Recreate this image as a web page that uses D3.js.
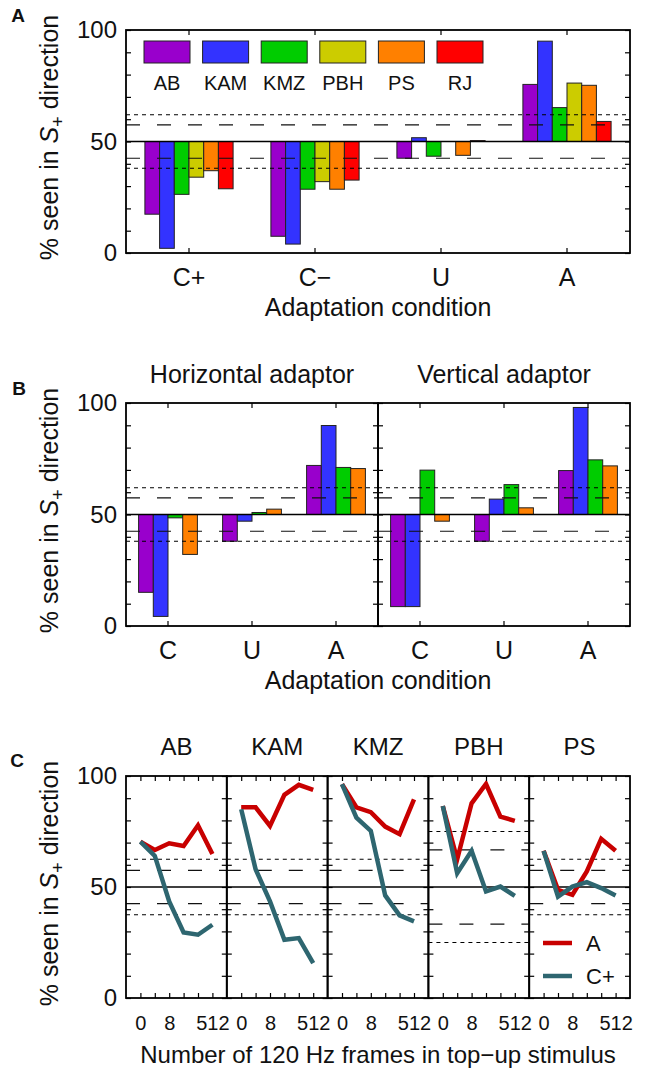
<!DOCTYPE html>
<html>
<head>
<meta charset="utf-8">
<script src="https://cdn.jsdelivr.net/npm/d3@7"></script>
<style>
body { margin: 0; background: #fff; }
svg { display: block; font-family: "Liberation Sans", Arial, Helvetica, sans-serif; }
</style>
</head>
<body>
<div id="chart"></div>
<script>
// ---- data ----
var subjects = ["AB", "KAM", "KMZ", "PBH", "PS", "RJ"];
var subjectColors = ["#9900cc", "#3333ff", "#00cc00", "#cccc00", "#ff8000", "#ff0000"];

// panel A : % seen in S+ direction per adaptation condition
var conditionsA = ["C+", "C\u2212", "U", "A"];
var abA  = [17.4, 7.5, 42.5, 75.6];
var kamA = [2.1, 4.0, 51.7, 95.0];
var kmzA = [26.3, 28.6, 43.4, 65.2];
var pbhA = [34.0, 32.0, 50.0, 76.2];
var psA  = [36.9, 28.6, 43.8, 75.2];
var rjA  = [28.8, 32.7, 50.4, 59.0];

// panel B : horizontal and vertical adaptor
var subjectsB = ["AB", "KAM", "KMZ", "PS"];
var colorsB = ["#9900cc", "#3333ff", "#00cc00", "#ff8000"];
var conditionsB = ["C", "U", "A"];
var horizAB  = [15.1, 38.0, 72.0];
var horizKAM = [4.3, 47.0, 89.9];
var horizKMZ = [48.5, 50.9, 71.1];
var horizPS  = [32.1, 52.4, 70.6];
var vertAB  = [8.7, 38.0, 69.7];
var vertKAM = [8.7, 56.9, 98.0];
var vertKMZ = [69.9, 63.4, 74.5];
var vertPS  = [47.0, 53.0, 71.8];

// panel C : top-up frames
var subjectsC = ["AB", "KAM", "KMZ", "PBH", "PS"];
var frames = [0, 2, 8, 32, 128, 512];
var frameLabels = [0, 8, 512];
var adaptC = [
    [70.4, 66.7, 69.7, 68.5, 77.8, 64.9],
    [85.9, 85.9, 77.5, 91.5, 96.0, 93.7],
    [96.3, 85.9, 83.7, 77.2, 73.8, 89.5],
    [86.5, 62.5, 87.7, 96.4, 81.7, 79.8],
    [66.3, 48.7, 46.5, 57.0, 71.7, 66.3]
];
var contC = [
    [70.4, 64.0, 43.5, 29.5, 28.5, 33.0],
    [85.0, 58.0, 43.5, 26.2, 27.0, 15.7],
    [96.3, 81.2, 75.3, 46.2, 37.2, 34.5],
    [86.5, 56.2, 66.3, 48.0, 50.2, 46.0],
    [66.3, 45.7, 50.2, 52.2, 49.5, 46.2]
];

// criterion lines (short dash / long dash)
var shortCrit = [62, 38];
var longCrit = [57.5, 42.5];
var shortCritC = [[62.5, 37.5], [62.5, 37.5], [62.5, 37.5], [75, 25], [62.5, 37.5]];
var longCritC = [[57.5, 42.5], [57.5, 42.5], [57.5, 42.5], [66.7, 33.3], [57.5, 42.5]];

var yTicks = d3.range(0, 101, 10);
var font = "Liberation Sans, Arial, Helvetica, sans-serif";

var svg = d3.select("#chart")
    .append("svg")
    .attr("width", 645)
    .attr("height", 1068);

var left = 126, right = 630;

function yTickAxis(g, y, x, side, labels) {
    var axis = (side === "left" ? d3.axisLeft(y) : d3.axisRight(y))
        .tickValues(yTicks)
        .tickSize(-5)
        .tickPadding(9)
        .tickFormat(function(d) { return labels && d % 50 === 0 ? d : ""; });
    var a = g.append("g")
        .attr("transform", "translate(" + x + ",0)")
        .attr("font-family", font)
        .call(axis);
    a.select(".domain").remove();
    a.selectAll("line").attr("stroke", "#000").attr("stroke-width", 1.2);
    a.selectAll("text").attr("font-size", 24).attr("fill", "#111");
}

function xTickAxis(g, x, top, bottom, fmt, size, pad) {
    var b = g.append("g")
        .attr("transform", "translate(0," + bottom + ")")
        .attr("font-family", font)
        .call(d3.axisBottom(x).tickSize(-5).tickPadding(pad).tickFormat(fmt));
    b.select(".domain").remove();
    b.selectAll("line").attr("stroke", "#000").attr("stroke-width", 1.2);
    b.selectAll("text").attr("font-size", size).attr("fill", "#111");
    var t = g.append("g")
        .attr("transform", "translate(0," + top + ")")
        .call(d3.axisTop(x).tickSize(-5).tickFormat(""));
    t.select(".domain").remove();
    t.selectAll("line").attr("stroke", "#000").attr("stroke-width", 1.2);
    return b;
}

function refLines(g, y, x0, x1, shortVals, longVals) {
    g.append("line")
        .attr("x1", x0).attr("x2", x1)
        .attr("y1", y(50)).attr("y2", y(50))
        .attr("stroke", "#000").attr("stroke-width", 1.3);
    shortVals.forEach(function(v) {
        g.append("line")
            .attr("x1", x0).attr("x2", x1)
            .attr("y1", y(v)).attr("y2", y(v))
            .attr("stroke", "#000").attr("stroke-width", 1.1)
            .attr("stroke-dasharray", "4,4");
    });
    longVals.forEach(function(v) {
        g.append("line")
            .attr("x1", x0).attr("x2", x1)
            .attr("y1", y(v)).attr("y2", y(v))
            .attr("stroke", "#111").attr("stroke-width", 1.2)
            .attr("stroke-dasharray", "14,17");
    });
}

function frame(g, x0, x1, y) {
    g.append("rect")
        .attr("x", x0).attr("y", y(100))
        .attr("width", x1 - x0).attr("height", y(0) - y(100))
        .attr("fill", "none").attr("stroke", "#000").attr("stroke-width", 1.8);
}

function drawBars(g, cond, subj, cols, series, x0, x1, y) {
    var xCond = d3.scaleBand().domain(cond).range([x0, x1]);
    var groupW = xCond.bandwidth() * 0.7;
    var xSubj = d3.scaleBand().domain(subj).range([0, groupW]);
    series.forEach(function(vals, si) {
        g.selectAll(null)
            .data(vals)
            .enter()
            .append("rect")
            .attr("x", function(d, i) { return xCond(cond[i]) + (xCond.bandwidth() - groupW) / 2 + xSubj(subj[si]); })
            .attr("y", function(d) { return y(Math.max(d, 50)); })
            .attr("width", xSubj.bandwidth())
            .attr("height", function(d) { return Math.abs(y(d) - y(50)); })
            .attr("fill", cols[si])
            .attr("stroke", "#222")
            .attr("stroke-width", 1);
    });
    return xCond;
}

function yTitle(cy) {
    var t = svg.append("text")
        .attr("transform", "translate(58," + cy + ") rotate(-90)")
        .attr("text-anchor", "middle")
        .attr("font-size", 25)
        .attr("fill", "#111");
    t.append("tspan").text("% seen in ");
    t.append("tspan").attr("font-style", "italic").text("S");
    t.append("tspan").attr("font-size", 18).attr("dy", 6).text("+");
    t.append("tspan").attr("dy", -6).text(" direction");
}

function label(txt, x, y, size, weight) {
    return svg.append("text")
        .attr("x", x).attr("y", y)
        .attr("text-anchor", "middle")
        .attr("font-size", size)
        .attr("font-weight", weight || "normal")
        .attr("fill", "#111")
        .text(txt);
}

// ---------- panel A ----------
var yA = d3.scaleLinear().domain([0, 100]).range([253, 30]);
var gA = svg.append("g");
var xA = drawBars(gA, conditionsA, subjects, subjectColors, [abA, kamA, kmzA, pbhA, psA, rjA], left, right, yA);
refLines(gA, yA, left, right, shortCrit, longCrit);
yTickAxis(gA, yA, left, "left", true);
yTickAxis(gA, yA, right, "right", false);
xTickAxis(gA, xA, 30, 253, null, 25, 15);
frame(gA, left, right, yA);

// legend
var legX = d3.scaleBand().domain(subjects).range([144, 483]).paddingInner(0.215);
gA.selectAll(".leg")
    .data(subjects)
    .enter()
    .append("rect")
    .attr("x", function(d) { return legX(d); })
    .attr("y", 41)
    .attr("width", legX.bandwidth())
    .attr("height", 22)
    .attr("fill", function(d, i) { return subjectColors[i]; })
    .attr("stroke", "#222")
    .attr("stroke-width", 1);
gA.selectAll(".legtext")
    .data(subjects)
    .enter()
    .append("text")
    .attr("x", function(d) { return legX(d) + legX.bandwidth() / 2; })
    .attr("y", 90)
    .attr("text-anchor", "middle")
    .attr("font-size", 20)
    .attr("fill", "#111")
    .text(function(d) { return d; });

label("A", 18, 22, 19, "bold");
label("Adaptation condition", 378, 316, 25);
yTitle(137.5);

// ---------- panel B ----------
var yB = d3.scaleLinear().domain([0, 100]).range([626, 403]);
var mid = (left + right) / 2;
[[left, mid, [horizAB, horizKAM, horizKMZ, horizPS], "Horizontal adaptor"],
 [mid, right, [vertAB, vertKAM, vertKMZ, vertPS], "Vertical adaptor"]].forEach(function(p, k) {
    var g = svg.append("g");
    var x = drawBars(g, conditionsB, subjectsB, colorsB, p[2], p[0], p[1], yB);
    refLines(g, yB, p[0], p[1], shortCrit, longCrit);
    yTickAxis(g, yB, p[0], "left", k === 0);
    yTickAxis(g, yB, p[1], "right", false);
    xTickAxis(g, x, 403, 626, null, 25, 15);
    frame(g, p[0], p[1], yB);
    label(p[3], (p[0] + p[1]) / 2, 383, 25);
});
label("B", 19, 395, 19, "bold");
label("Adaptation condition", 378, 689, 25);
yTitle(510.5);

// ---------- panel C ----------
var yC = d3.scaleLinear().domain([0, 100]).range([998, 776]);
var panelW = (right - left) / subjectsC.length;
var xF;
var line = d3.line()
    .x(function(d, i) { return xF(frames[i]); })
    .y(function(d) { return yC(d); });
subjectsC.forEach(function(s, k) {
    var x0 = left + k * panelW, x1 = x0 + panelW;
    var g = svg.append("g");
    xF = d3.scalePoint().domain(frames).range([x0, x1]).padding(1);
    refLines(g, yC, x0, x1, shortCritC[k], longCritC[k]);
    g.append("path")
        .attr("d", line(adaptC[k]))
        .attr("fill", "none")
        .attr("stroke", "#c80000")
        .attr("stroke-width", 4.5);
    g.append("path")
        .attr("d", line(contC[k]))
        .attr("fill", "none")
        .attr("stroke", "#2e6670")
        .attr("stroke-width", 4.5);
    yTickAxis(g, yC, x0, "left", k === 0);
    yTickAxis(g, yC, x1, "right", false);
    xTickAxis(g, xF, 776, 998, function(d) { return frameLabels.indexOf(d) >= 0 ? d : ""; }, 20, 18);
    frame(g, x0, x1, yC);
    label(s, (x0 + x1) / 2, 755, 24);
});

// legend panel C
var legC = [["A", "#c80000", 943], ["C+", "#2e6670", 976]];
legC.forEach(function(l) {
    svg.append("line")
        .attr("x1", 543).attr("x2", 572)
        .attr("y1", l[2]).attr("y2", l[2])
        .attr("stroke", l[1]).attr("stroke-width", 4.5);
    svg.append("text")
        .attr("x", 586).attr("y", l[2])
        .attr("dy", "0.35em")
        .attr("font-size", 22)
        .attr("fill", "#111")
        .text(l[0]);
});

label("C", 17, 767, 19, "bold");
label("Number of 120 Hz frames in top\u2212up stimulus", 378, 1063, 24);
yTitle(883.5);
</script>
</body>
</html>
